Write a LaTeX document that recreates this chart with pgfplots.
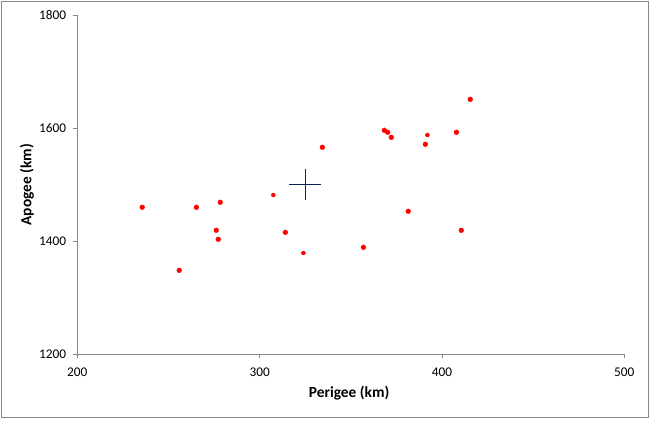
\documentclass[border=0pt]{standalone}
\usepackage{pgfplots}
\pgfplotsset{compat=1.18}
\usepackage{fontspec}
\setmainfont{Carlito}
\definecolor{axgray}{RGB}{134,134,134}
\definecolor{navy}{RGB}{15,30,85}
\begin{document}
\begin{tikzpicture}[x=1pt,y=1pt]
\path[use as bounding box] (0,0) rectangle (671,433);
\draw[axgray, line width=1pt] (1.3,15.7) rectangle (648.3,431.7);
\begin{axis}[
  at={(77.3pt,78.7pt)}, anchor=south west,
  scale only axis, width=547pt, height=339.3pt,
  xmin=200, xmax=500, ymin=1200, ymax=1800,
  axis lines*=left,
  axis line style={axgray, line width=0.8pt},
  every tick/.style={axgray, line width=0.8pt},
  tick align=outside, major tick length=4pt,
  xtick={200,300,400,500}, xticklabels={200,300,400,500},
  ytick={1200,1400,1600,1800}, yticklabels={1200,1400,1600,1800},
  ticklabel style={font=\fontsize{13.3}{14}\selectfont, text=black},
  xticklabel style={anchor=north, inner sep=0pt, yshift=-9pt},
  yticklabel style={anchor=east, inner sep=0pt, xshift=-7pt},
  xlabel={\textbf{Perigee (km)}},
  ylabel={\textbf{Apogee (km)}},
  label style={font=\fontsize{15.4}{17}\selectfont},
  xlabel style={at={(axis description cs:0.497,0)}, anchor=center, yshift=-38.7pt},
  ylabel style={at={(axis description cs:0,0.5)}, anchor=center, yshift=50.3pt},
  clip=false,
]
\addplot[only marks, mark=*, mark size=2.4pt, color=red, mark options={fill=red, draw=red}] coordinates {
(235.6,1460) (265.3,1460) (278.4,1468.8) (276.2,1419.3) (277.3,1403.4)
(255.9,1348.5) (314.1,1415.7) (415.5,1650.9) (368.4,1596.1) (370.2,1592.6)
(372.2,1583.7) (390.9,1571.4) (407.9,1592.6) (334.4,1566.1) (381.5,1452.9)
(410.6,1419.3) (356.9,1389.2)
};
\addplot[only marks, mark=*, mark size=2.0pt, color=red, mark options={fill=red, draw=red}] coordinates {
(307.5,1481.7) (324.0,1379.1) (392.0,1587.8)
};
\addplot[only marks, mark=+, mark size=15.85pt, color=navy, mark options={line width=1pt}] coordinates {
(325,1500)
};
\end{axis}
\end{tikzpicture}
\end{document}
